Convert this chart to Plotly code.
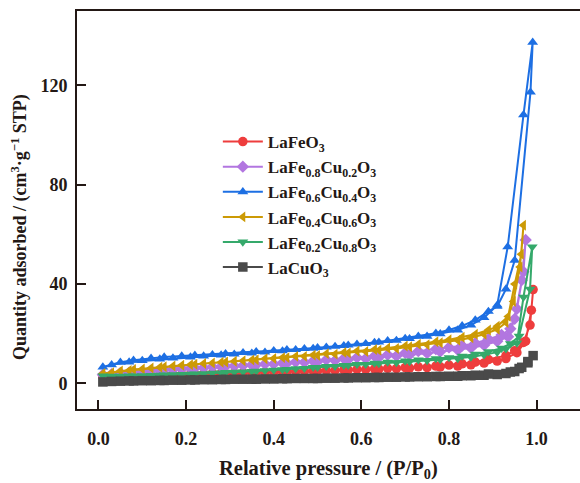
import plotly.graph_objects as go

# Shared relative-pressure grids (adsorption up, desorption back down)
P_ADS = [0.01, 0.05, 0.08, 0.12, 0.15, 0.19, 0.22, 0.26, 0.29, 0.33, 0.36, 0.40, 0.43, 0.47,
         0.50, 0.54, 0.57, 0.61, 0.64, 0.68, 0.71, 0.75, 0.78, 0.82, 0.85, 0.88, 0.91]
P_DES = [0.89, 0.86, 0.83, 0.80, 0.77, 0.73, 0.70, 0.66, 0.63, 0.59, 0.56, 0.52, 0.49,
         0.45, 0.42, 0.38, 0.35, 0.31, 0.28, 0.24, 0.21, 0.17, 0.14, 0.10, 0.07, 0.03]

# LaFeO3
LAFEO3_ADS = [2.7, 3.0, 3.2, 3.4, 3.5, 3.7, 3.8, 4.0, 4.1, 4.3, 4.4, 4.6, 4.7, 4.9, 5.0, 5.2,
              5.4, 5.6, 5.8, 6.0, 6.2, 6.4, 6.7, 7.0, 7.5, 8.2, 9.0]
LAFEO3_CAP_P = [0.93, 0.955, 0.975, 0.988, 0.992, 0.985, 0.97, 0.95, 0.93]
LAFEO3_CAP_V = [10.0, 12.4, 17.0, 29.5, 37.8, 23.5, 16.5, 13.2, 11.2]
LAFEO3_DES = [9.6, 8.6, 7.9, 7.4, 7.0, 6.7, 6.4, 6.1, 5.9, 5.7, 5.5, 5.2, 5.0, 4.8, 4.7, 4.5,
              4.4, 4.2, 4.1, 3.9, 3.8, 3.6, 3.5, 3.3, 3.1, 2.9]

# LaFe0.8Cu0.2O3
CU02_ADS = [3.5, 4.2, 4.7, 5.1, 5.5, 5.9, 6.2, 6.6, 6.9, 7.2, 7.5, 7.8, 8.1, 8.5, 8.8, 9.2,
            9.6, 10.0, 10.5, 11.0, 11.5, 12.2, 12.8, 13.5, 14.3, 15.4, 17.0]
CU02_CAP_P = [0.935, 0.95, 0.966, 0.975, 0.97, 0.955, 0.94, 0.92]
CU02_CAP_V = [18.8, 26.0, 41.6, 57.8, 45.0, 30.0, 22.0, 19.5]
CU02_DES = [17.8, 16.2, 15.2, 14.5, 13.8, 13.0, 12.3, 11.5, 11.0, 10.4, 10.0, 9.5, 9.0, 8.6,
            8.2, 7.8, 7.4, 7.0, 6.7, 6.3, 6.0, 5.6, 5.2, 4.7, 4.3, 3.7]

# LaFe0.6Cu0.4O3
CU04_ADS = [6.6, 8.5, 9.3, 10.1, 10.6, 11.0, 11.3, 11.6, 12.0, 12.4, 12.8, 13.2, 13.6, 14.0,
            14.4, 14.9, 15.4, 16.0, 16.6, 17.3, 18.0, 19.0, 20.0, 21.5, 23.5, 26.5, 31.5]
CU04_CAP_P = [0.934, 0.97, 0.991, 0.986, 0.95, 0.93, 0.91]
CU04_CAP_V = [55.0, 108.2, 137.4, 117.3, 49.6, 38.0, 31.0]
CU04_DES = [29.0, 25.5, 23.2, 21.5, 20.2, 19.0, 18.1, 17.2, 16.5, 15.8, 15.2, 14.6, 14.1,
            13.6, 13.1, 12.6, 12.2, 11.8, 11.4, 11.0, 10.6, 10.2, 9.8, 9.2, 8.6, 7.5]

# LaFe0.4Cu0.6O3
CU06_ADS = [4.0, 5.0, 5.6, 6.2, 6.7, 7.3, 7.7, 8.2, 8.6, 9.1, 9.5, 10.0, 10.4, 10.9, 11.3,
            11.8, 12.3, 12.9, 13.4, 14.1, 14.8, 15.6, 16.4, 17.4, 18.4, 19.8, 21.8]
CU06_CAP_P = [0.93, 0.947, 0.962, 0.97, 0.965, 0.95, 0.935, 0.91]
CU06_CAP_V = [24.5, 33.0, 46.9, 63.7, 52.0, 40.0, 27.0, 23.0]
CU06_DES = [21.5, 19.8, 18.6, 17.6, 16.8, 15.8, 15.1, 14.3, 13.7, 13.1, 12.5, 12.0, 11.4,
            10.9, 10.4, 9.9, 9.4, 8.9, 8.5, 8.0, 7.5, 7.0, 6.5, 5.8, 5.2, 4.3]

# LaFe0.2Cu0.8O3
CU08_ADS = [3.0, 2.9, 3.0, 3.2, 3.4, 3.6, 3.8, 4.1, 4.4, 4.7, 5.0, 5.4, 5.7, 6.1, 6.5, 6.9,
            7.3, 7.7, 8.0, 8.4, 8.8, 9.2, 9.6, 10.0, 10.6, 11.5, 12.6]
CU08_CAP_P = [0.93, 0.955, 0.97, 0.99, 0.985, 0.96, 0.94, 0.92]
CU08_CAP_V = [14.0, 16.3, 34.8, 55.0, 38.0, 19.0, 16.0, 14.2]
CU08_DES = [12.8, 11.8, 11.0, 10.4, 10.0, 9.5, 9.1, 8.6, 8.2, 7.7, 7.3, 6.9, 6.5, 6.0, 5.6,
            5.2, 4.9, 4.5, 4.2, 3.9, 3.7, 3.5, 3.3, 3.1, 3.0, 2.9]

# LaCuO3
LACUO3_ADS = [0.6, 0.9, 1.0, 1.1, 1.2, 1.3, 1.4, 1.5, 1.6, 1.7, 1.7, 1.8, 1.9, 2.0, 2.0, 2.1,
              2.2, 2.3, 2.4, 2.5, 2.6, 2.7, 2.8, 2.9, 3.1, 3.3, 3.6]
LACUO3_CAP_P = [0.93, 0.95, 0.966, 0.98, 0.992, 0.98, 0.96, 0.94]
LACUO3_CAP_V = [4.0, 4.8, 6.5, 8.3, 11.2, 8.8, 6.0, 4.6]
LACUO3_DES = [3.8, 3.3, 3.1, 2.9, 2.8, 2.7, 2.6, 2.5, 2.4, 2.3, 2.2, 2.1, 2.0, 2.0, 1.9, 1.8,
              1.7, 1.7, 1.6, 1.5, 1.4, 1.3, 1.2, 1.1, 1.0, 0.8]

X_TICKS = [0.0, 0.2, 0.4, 0.6, 0.8, 1.0]
Y_TICKS = [0, 40, 80, 120]

SERIES = [
    ("LaFeO<sub>3</sub>", LAFEO3_ADS, LAFEO3_CAP_P, LAFEO3_CAP_V, LAFEO3_DES, "#ee3d3d", "circle"),
    ("LaFe<sub>0.8</sub>Cu<sub>0.2</sub>O<sub>3</sub>", CU02_ADS, CU02_CAP_P, CU02_CAP_V, CU02_DES, "#b276e0", "diamond"),
    ("LaFe<sub>0.6</sub>Cu<sub>0.4</sub>O<sub>3</sub>", CU04_ADS, CU04_CAP_P, CU04_CAP_V, CU04_DES, "#1d6fe3", "triangle-up"),
    ("LaFe<sub>0.4</sub>Cu<sub>0.6</sub>O<sub>3</sub>", CU06_ADS, CU06_CAP_P, CU06_CAP_V, CU06_DES, "#cc9a05", "triangle-left"),
    ("LaFe<sub>0.2</sub>Cu<sub>0.8</sub>O<sub>3</sub>", CU08_ADS, CU08_CAP_P, CU08_CAP_V, CU08_DES, "#35a96b", "triangle-down"),
    ("LaCuO<sub>3</sub>", LACUO3_ADS, LACUO3_CAP_P, LACUO3_CAP_V, LACUO3_DES, "#4a4a4a", "square"),
]

INK = "#231815"
FONT = "Liberation Serif"

fig = go.Figure()
for name, ads, cap_p, cap_v, des, color, symbol in SERIES:
    xs = P_ADS + cap_p + P_DES
    ys = ads + cap_v + des
    fig.add_trace(go.Scatter(
        x=xs, y=ys, name=name, mode="lines+markers",
        line=dict(color=color, width=2),
        marker=dict(symbol=symbol, size=9.5, color=color),
    ))

axis_common = dict(
    showline=True, linecolor=INK, linewidth=2,
    ticks="inside", ticklen=9, tickwidth=2, tickcolor=INK,
    showgrid=False, zeroline=False,
    tickfont=dict(family=FONT, size=18, color=INK, weight="bold"),
)

fig.update_layout(
    width=580, height=483,
    margin=dict(l=77, r=0, t=11, b=74),
    paper_bgcolor="white", plot_bgcolor="white",
    xaxis=dict(range=[-0.049, 1.099], tickvals=X_TICKS, tickformat=".1f",
               mirror=True, ticklabelstandoff=12, **axis_common),
    yaxis=dict(range=[-10.3, 150], tickvals=Y_TICKS, ticklabelstandoff=4, **axis_common),
    legend=dict(
        x=0.280, y=0.716, xanchor="left", yanchor="top",
        bgcolor="rgba(0,0,0,0)", borderwidth=0,
        font=dict(family=FONT, size=17, color=INK, weight="bold"),
        itemwidth=40,
    ),
    annotations=[
        dict(text="Relative pressure / (P/P<sub>0</sub>)", xref="paper", yref="paper",
             x=0.5, y=-0.152, xanchor="center", yanchor="middle", showarrow=False,
             font=dict(family=FONT, size=20.5, color=INK, weight="bold")),
        dict(text="Quantity adsorbed / (cm<sup>3</sup>\u00b7g<sup>\u22121</sup> STP)",
             xref="paper", yref="paper", x=-0.1133, y=0.457, textangle=-90,
             xanchor="center", yanchor="middle", showarrow=False,
             font=dict(family=FONT, size=18, color=INK, weight="bold")),
    ],
)

fig.write_html("out.html")
